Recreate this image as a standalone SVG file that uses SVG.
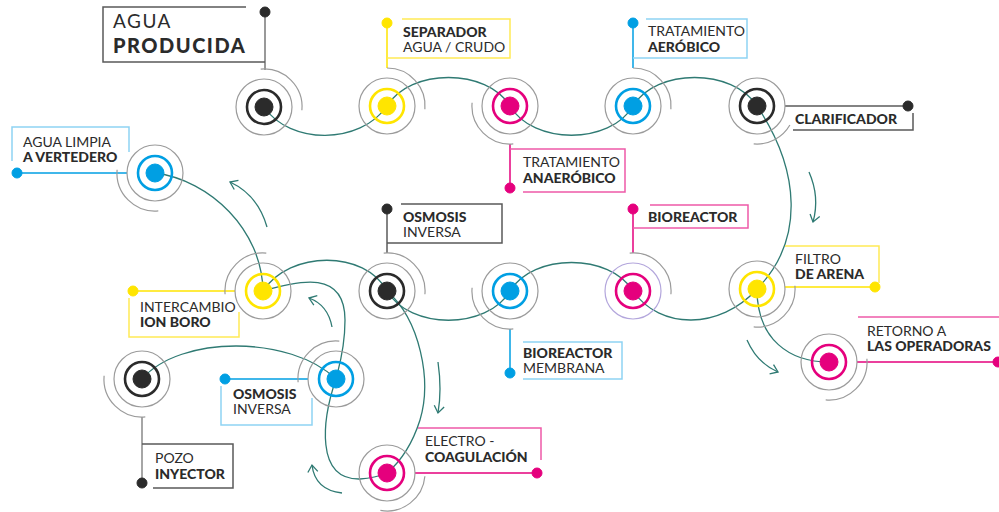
<svg xmlns="http://www.w3.org/2000/svg" width="999" height="512" viewBox="0 0 999 512">
<defs>
<style>
.o{fill:none;stroke:#9b9b9b;stroke-width:1.2}
.ol{fill:none;stroke:#b3a6dc;stroke-width:1.2}
.c{fill:none;stroke:#2f7a73;stroke-width:1.3}
.ar{fill:none;stroke:#2f7a73;stroke-width:1.3;marker-end:url(#chev)}
text{font-family:"Lato","Liberation Sans",sans-serif;fill:#2b2b2b;font-size:14px}
.b{font-weight:900}
.bx{fill:none;stroke-width:1.5}
.k{stroke:#2b2b2b;fill:#2b2b2b}.kb{stroke:#5a5a5a}
.y{stroke:#ffe500;fill:#ffe500}.yb{stroke:#ffea55}
.m{stroke:#e5007d;fill:#e5007d}.mb{stroke:#ee5aa8}
.u{stroke:#009fe3;fill:#009fe3}.ub{stroke:#8fd3f3}
.ln{fill:none;stroke-width:1.5}
.ring{fill:none !important;stroke-width:2.6}
</style>
<marker id="chev" markerWidth="12" markerHeight="12" refX="8" refY="6" orient="auto" markerUnits="userSpaceOnUse" overflow="visible">
<polyline points="1,1 8,6 1,11" fill="none" stroke="#2f7a73" stroke-width="1.3"/>
</marker>
</defs>
<rect width="999" height="512" fill="#ffffff"/>

<g id="connectors">
<path class="c" d="M264,107 C290,145 360,145 387,106 C410,68 487,68 510,106 C533,145 610,145 633,106 C656,68 733,68 757,106 C800,170 805,240 757,289 C720,330 660,330 633,291 C610,253 533,253 510,291 C487,330 410,330 387,291 C365,250 290,250 263,291"/>
<path class="c" d="M155,173 C210,180 262,230 263,291"/>
<path class="c" d="M263,291 C300,280 345,270 345,320 C345,350 338,370 336,379"/>
<path class="c" d="M336,379 C322,420 315,480 360,479 Q375,478 387,473"/>
<path class="c" d="M387,291 C420,320 432,380 420,420 C412,445 400,462 387,473"/>
<path class="c" d="M142,379 C180,335 290,335 336,379"/>
<path class="c" d="M757,289 C757,340 790,362 829,362"/>
<path class="ar" d="M267,227 Q258,195 230,182"/>
<path class="ar" d="M809,172 Q820,197 813,222"/>
<path class="ar" d="M332,327 Q328,305 309,298"/>
<path class="ar" d="M342,493 Q315,490 312,465"/>
<path class="ar" d="M438,362 Q442,390 438,413"/>
<path class="ar" d="M747,340 Q757,363 778,372"/>
</g>

<g id="agua-producida">
<line class="ln" x1="265" y1="12" x2="265" y2="70" stroke="#777"/>
<circle class="k" cx="265" cy="12" r="5"/>
<path class="bx kb" d="M246,7 H103 V62 H265"/>
<text x="113" y="28" style="font-size:19px;letter-spacing:1.5px">AGUA</text>
<text x="113" y="53" class="b" style="font-size:20px;letter-spacing:1.5px">PRODUCIDA</text>
<circle class="o" cx="264" cy="107" r="28"/>
<path class="o" d="M260.7,69.1 A38,38 0 0 1 301.9,110.3"/>
<circle class="ring k" cx="264" cy="107" r="17"/>
<circle class="k" cx="264" cy="107" r="9"/>
</g>

<g id="separador">
<line class="ln y" x1="387" y1="23" x2="387" y2="68"/>
<circle class="y" cx="387" cy="23" r="5"/>
<path class="bx yb" d="M402,19 H510 V58 H387"/>
<text x="403" y="37" class="b">SEPARADOR</text>
<text x="403" y="52">AGUA / CRUDO</text>
<circle class="o" cx="387" cy="106" r="28"/>
<path class="o" d="M387,68 A38,38 0 0 1 424.9,109.3"/>
<circle class="ring y" cx="387" cy="106" r="17"/>
<circle class="y" cx="387" cy="106" r="9"/>
</g>

<g id="tratamiento-anaerobico">
<line class="ln m" x1="510" y1="144" x2="510" y2="188"/>
<circle class="m" cx="510" cy="188" r="5"/>
<path class="bx mb" d="M510,149 H625 V192 H523"/>
<text x="523" y="167">TRATAMIENTO</text>
<text x="523" y="183" class="b">ANAERÓBICO</text>
<circle class="o" cx="510" cy="106" r="28"/>
<path class="o" d="M513.3,143.9 A38,38 0 0 1 472.1,102.7"/>
<circle class="ring m" cx="510" cy="106" r="17"/>
<circle class="m" cx="510" cy="106" r="9"/>
</g>

<g id="tratamiento-aerobico">
<line class="ln u" x1="633" y1="23" x2="633" y2="68"/>
<circle class="u" cx="633" cy="23" r="5"/>
<path class="bx ub" d="M646,19 H747 V58 H633"/>
<text x="648" y="36">TRATAMIENTO</text>
<text x="648" y="52" class="b">AERÓBICO</text>
<circle class="o" cx="633" cy="106" r="28"/>
<path class="o" d="M633,68 A38,38 0 0 1 670.9,109.3"/>
<circle class="ring u" cx="633" cy="106" r="17"/>
<circle class="u" cx="633" cy="106" r="9"/>
</g>

<g id="clarificador">
<line class="ln kb" x1="785" y1="106" x2="908" y2="106"/>
<circle class="k" cx="908" cy="106" r="5"/>
<path class="bx kb" d="M793,130 H913 V113"/>
<text x="795" y="124" class="b">CLARIFICADOR</text>
<circle class="o" cx="757" cy="106" r="28"/>
<path class="o" d="M789.9,125 A38,38 0 0 1 753.7,143.9"/>
<circle class="ring k" cx="757" cy="106" r="17"/>
<circle class="k" cx="757" cy="106" r="9"/>
</g>

<g id="agua-limpia">
<line class="ln u" x1="17" y1="173" x2="127" y2="173"/>
<circle class="u" cx="17" cy="173" r="5"/>
<path class="bx ub" d="M12,161 V127 H129 V152"/>
<text x="23" y="147">AGUA LIMPIA</text>
<text x="23" y="162" class="b">A VERTEDERO</text>
<circle class="o" cx="155" cy="173" r="28"/>
<path class="o" d="M158.3,210.9 A38,38 0 0 1 117.1,169.7"/>
<circle class="ring u" cx="155" cy="173" r="17"/>
<circle class="u" cx="155" cy="173" r="9"/>
</g>

<g id="intercambio-ion-boro">
<line class="ln y" x1="133" y1="291" x2="235" y2="291"/>
<circle class="y" cx="133" cy="291" r="5"/>
<path class="bx yb" d="M129,298 V337 H239 V312"/>
<text x="140" y="312">INTERCAMBIO</text>
<text x="140" y="327" class="b">ION BORO</text>
<circle class="o" cx="263" cy="291" r="28"/>
<path class="o" d="M225.1,294.3 A38,38 0 0 1 266.3,253.1"/>
<circle class="ring y" cx="263" cy="291" r="17"/>
<circle class="y" cx="263" cy="291" r="9"/>
</g>

<g id="osmosis-inversa-1">
<line class="ln kb" x1="387" y1="209" x2="387" y2="253"/>
<circle class="k" cx="387" cy="209" r="5"/>
<path class="bx kb" d="M401,204 H502 V243 H387"/>
<text x="403" y="222" class="b">OSMOSIS</text>
<text x="403" y="237">INVERSA</text>
<circle class="o" cx="387" cy="291" r="28"/>
<path class="o" d="M383.7,253.1 A38,38 0 0 1 424.9,294.3"/>
<circle class="ring k" cx="387" cy="291" r="17"/>
<circle class="k" cx="387" cy="291" r="9"/>
</g>

<g id="bioreactor-membrana">
<line class="ln u" x1="510" y1="329" x2="510" y2="373"/>
<circle class="u" cx="510" cy="373" r="5"/>
<path class="bx ub" d="M523,342 H622 V379 H523"/>
<text x="523" y="358" class="b">BIOREACTOR</text>
<text x="523" y="373">MEMBRANA</text>
<circle class="o" cx="510" cy="291" r="28"/>
<path class="o" d="M513.3,328.9 A38,38 0 0 1 472.1,287.7"/>
<circle class="ring u" cx="510" cy="291" r="17"/>
<circle class="u" cx="510" cy="291" r="9"/>
</g>

<g id="bioreactor">
<line class="ln m" x1="633" y1="209" x2="633" y2="253"/>
<circle class="m" cx="633" cy="209" r="5"/>
<path class="bx mb" d="M650,205 H748 V228 H633"/>
<text x="648" y="222" class="b">BIOREACTOR</text>
<circle class="ol" cx="633" cy="291" r="28"/>
<path class="o" d="M629.7,253.1 A38,38 0 0 1 670.9,294.3"/>
<circle class="ring m" cx="633" cy="291" r="17"/>
<circle class="m" cx="633" cy="291" r="9"/>
</g>

<g id="filtro-de-arena">
<line class="ln y" x1="785" y1="287" x2="875" y2="287"/>
<circle class="y" cx="875" cy="287" r="5"/>
<path class="bx yb" d="M785,246 H879 V283"/>
<text x="795" y="264">FILTRO</text>
<text x="795" y="279" class="b">DE ARENA</text>
<circle class="o" cx="757" cy="289" r="28"/>
<path class="o" d="M794.9,285.7 A38,38 0 0 1 753.7,326.9"/>
<circle class="ring y" cx="757" cy="289" r="17"/>
<circle class="y" cx="757" cy="289" r="9"/>
</g>

<g id="retorno-operadoras">
<line class="ln m" x1="857" y1="362" x2="999" y2="362"/>
<circle class="m" cx="998" cy="362" r="5"/>
<path class="bx mb" d="M858,317 H999"/>
<text x="867" y="336">RETORNO A</text>
<text x="867" y="351" class="b">LAS OPERADORAS</text>
<circle class="o" cx="829" cy="362" r="28"/>
<path class="o" d="M866.9,358.7 A38,38 0 0 1 825.7,399.9"/>
<circle class="ring m" cx="829" cy="362" r="17"/>
<circle class="m" cx="829" cy="362" r="9"/>
</g>

<g id="osmosis-inversa-2">
<line class="ln u" x1="225" y1="379" x2="308" y2="379"/>
<circle class="u" cx="225" cy="379" r="5"/>
<path class="bx ub" d="M221,386 V425 H312 V398"/>
<text x="233" y="399" class="b">OSMOSIS</text>
<text x="233" y="414">INVERSA</text>
<circle class="o" cx="336" cy="379" r="28"/>
<path class="o" d="M298.1,382.3 A38,38 0 0 1 339.3,341.1"/>
<circle class="ring u" cx="336" cy="379" r="17"/>
<circle class="u" cx="336" cy="379" r="9"/>
</g>

<g id="pozo-inyector">
<line class="ln" x1="142" y1="417" x2="142" y2="483" stroke="#888"/>
<circle class="k" cx="142" cy="483" r="5"/>
<path class="bx kb" d="M142,444 H233 V488 H153"/>
<text x="155" y="463">POZO</text>
<text x="155" y="479" class="b">INYECTOR</text>
<circle class="o" cx="142" cy="379" r="28"/>
<path class="o" d="M145.3,416.9 A38,38 0 0 1 104.1,375.7"/>
<circle class="ring k" cx="142" cy="379" r="17"/>
<circle class="k" cx="142" cy="379" r="9"/>
</g>

<g id="electrocoagulacion">
<line class="ln m" x1="415" y1="473" x2="537" y2="473"/>
<circle class="m" cx="537" cy="473" r="5"/>
<path class="bx mb" d="M418,428 H541 V460"/>
<text x="425" y="446">ELECTRO -</text>
<text x="425" y="462" class="b">COAGULACIÓN</text>
<circle class="o" cx="387" cy="473" r="28"/>
<path class="o" d="M424.9,476.3 A38,38 0 0 1 380.4,510.4"/>
<circle class="ring m" cx="387" cy="473" r="17"/>
<circle class="m" cx="387" cy="473" r="9"/>
</g>
</svg>
